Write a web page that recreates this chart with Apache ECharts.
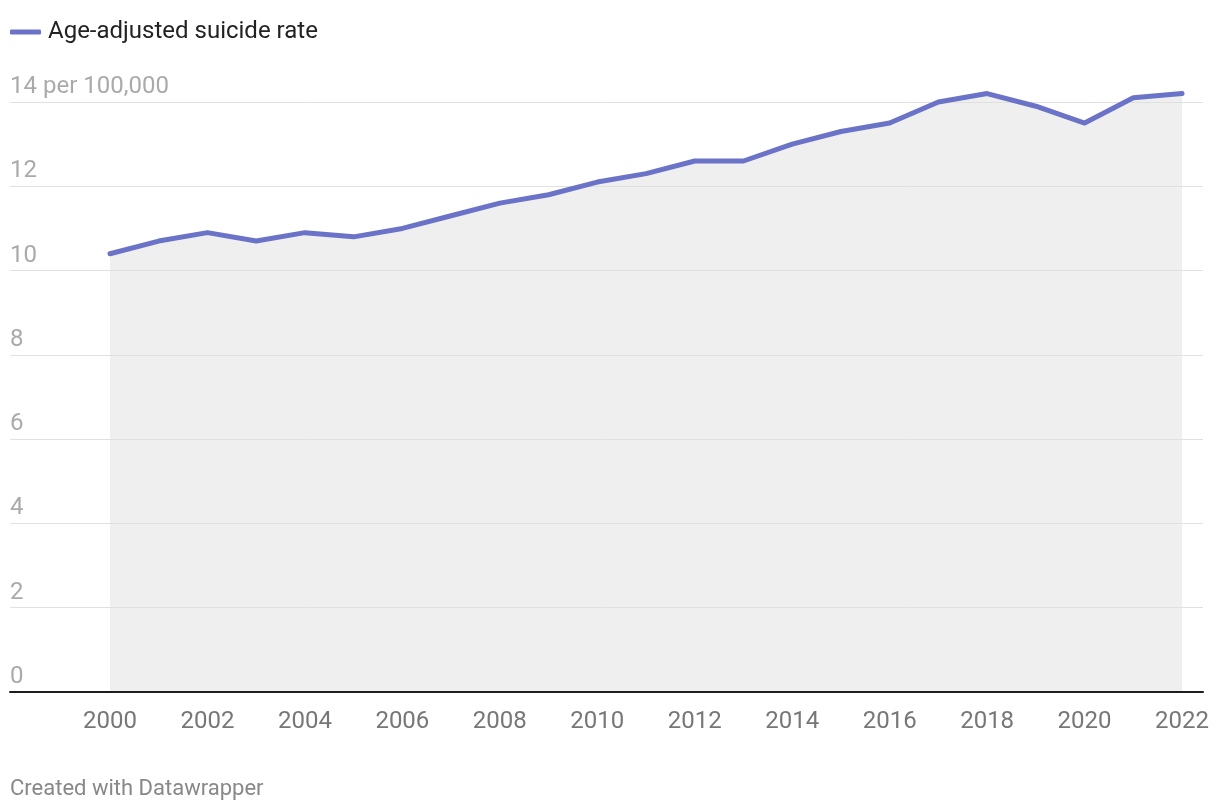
<!DOCTYPE html>
<html>
<head>
<meta charset="utf-8">
<script src="https://cdn.jsdelivr.net/npm/echarts@6/dist/echarts.min.js"></script>
<style>
  html, body { margin: 0; padding: 0; background: #fff; }
  #chart { width: 1220px; height: 810px; }
</style>
</head>
<body>
<div id="chart"></div>
<script>
const years = [2000,2001,2002,2003,2004,2005,2006,2007,2008,2009,2010,2011,2012,2013,2014,2015,2016,2017,2018,2019,2020,2021,2022];
const rates = [10.4,10.7,10.9,10.7,10.9,10.8,11.0,11.3,11.6,11.8,12.1,12.3,12.6,12.6,13.0,13.3,13.5,14.0,14.2,13.9,13.5,14.1,14.2];
const xTickLabels = [2000,2002,2004,2006,2008,2010,2012,2014,2016,2018,2020,2022];
const yTicks = [0,2,4,6,8,10,12,14];
const seriesName = 'Age-adjusted suicide rate';
const unitSuffix = ' per 100,000';

const chart = echarts.init(document.getElementById('chart'), null, { renderer: 'canvas' });
const font = 'Roboto, "Noto Sans", sans-serif';
const points = years.map((y, i) => [y, rates[i]]);

chart.setOption({
  animation: false,
  backgroundColor: '#ffffff',
  textStyle: { fontFamily: font },
  title: {
    text: 'Created with Datawrapper',
    left: 10,
    top: 778,
    padding: 0,
    textStyle: { fontFamily: font, fontSize: 22, fontWeight: 'normal', color: '#888888' }
  },
  legend: {
    data: [seriesName],
    left: 10,
    top: 20,
    padding: 0,
    icon: 'roundRect',
    itemWidth: 31,
    itemHeight: 5,
    textStyle: { fontFamily: font, fontSize: 24, color: '#222222', padding: [0, 0, 0, 2] }
  },
  grid: { left: 10, right: 17, top: 102, bottom: 118, containLabel: false },
  xAxis: {
    type: 'value',
    min: 1997.948,
    max: 2022.43,
    z: 3,
    axisLine: { show: true, onZero: false, lineStyle: { color: '#1d1d1d', width: 2 } },
    axisTick: { show: false },
    splitLine: { show: false },
    axisLabel: {
      customValues: xTickLabels,
      formatter: v => String(v),
      fontFamily: font,
      fontSize: 24,
      color: '#777777',
      margin: 18
    }
  },
  yAxis: {
    type: 'value',
    min: 0,
    max: 14,
    interval: 2,
    z: 3,
    axisLine: { show: false },
    axisTick: { show: false },
    splitLine: { show: true, lineStyle: { color: '#e0e0e0', width: 1 } },
    axisLabel: {
      inside: true,
      margin: 0,
      verticalAlign: 'bottom',
      padding: [0, 0, 3, 0],
      fontFamily: font,
      fontSize: 24,
      color: '#aaaaaa',
      formatter: v => (yTicks.indexOf(v) === yTicks.length - 1 ? v + unitSuffix : String(v))
    }
  },
  series: [{
    name: 'area',
    type: 'line',
    data: points,
    clip: false,
    showSymbol: false,
    symbol: 'none',
    lineStyle: { width: 0, opacity: 0 },
    areaStyle: { color: '#efefef', opacity: 1 },
    silent: true,
    z: 1
  }, {
    name: seriesName,
    type: 'line',
    data: points,
    clip: false,
    showSymbol: false,
    symbol: 'none',
    lineStyle: { color: '#6a73c8', width: 5, cap: 'round', join: 'round' },
    itemStyle: { color: '#6a73c8' },
    z: 5
  }]
});
</script>
</body>
</html>
